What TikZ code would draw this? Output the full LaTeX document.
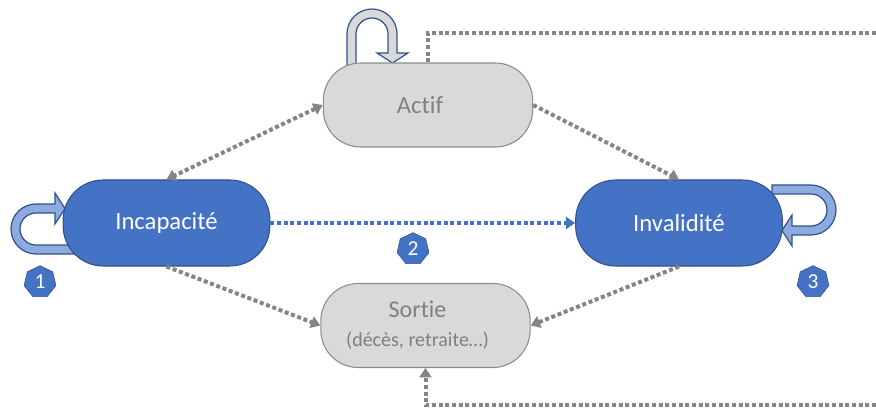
\documentclass[tikz,border=0pt]{standalone}
\usepackage{fontspec}
\setmainfont{Carlito}[Ligatures=NoCommon]
\usetikzlibrary{shapes.geometric,arrows.meta}
\definecolor{bfill}{HTML}{4472C4}
\definecolor{bline}{HTML}{2F528F}
\definecolor{gfill}{HTML}{D9D9D9}
\definecolor{gline}{HTML}{8C8C8C}
\definecolor{gtext}{HTML}{808080}
\definecolor{lblue}{HTML}{8FAADC}
\definecolor{dotgray}{HTML}{858585}
\tikzset{
  bluestate/.style={draw=bline, fill=bfill, line width=0.8pt, rounded corners=30pt,
    minimum width=155pt, minimum height=64.5pt, text=white,
    font=\fontsize{18.5}{22}\selectfont},
  graystate/.style={draw=gline, fill=gfill, line width=0.8pt, rounded corners=28pt,
    minimum width=157pt, minimum height=63pt, text=gtext,
    font=\fontsize{18.5}{22}\selectfont},
  dotline/.style={draw=dotgray, line width=3pt, dash pattern=on 3pt off 2pt},
  flow/.style={dotline, -{Triangle[width=9pt,length=7pt]}},
  flow2/.style={dotline, {Triangle[width=9pt,length=7pt]}-{Triangle[width=9pt,length=7pt]}},
  badge/.style={regular polygon, regular polygon sides=7, fill=bfill, draw=bline,
    line width=0.4pt, minimum size=24.5pt, inner sep=0pt, text=white,
    font=\fontsize{16}{16}\selectfont},
  pics/uturn/.style={code={
    \path[x=0.75pt, y=0.75pt, draw=bline, line width=0.9pt, fill=#1]
      (-25,-10) -- (-25,29) arc[start angle=180, end angle=0, radius=25]
      -- (25,10) -- (36,10) -- (20.5,0) -- (5,10) -- (16,10) -- (16,29)
      arc[start angle=0, end angle=180, radius=16] -- (-16,-10) -- cycle;
  }}
}
\begin{document}
\begin{tikzpicture}[x=0.75pt, y=-0.75pt]
\useasboundingbox (0,0) rectangle (876,410);

% self loops (behind the states)
\pic at (372,63) {uturn=gfill};
\pic[rotate=90] at (65,229) {uturn=lblue};
\pic[rotate=-90] at (782,210) {uturn=lblue};

% states
\node[graystate] (actif) at (428,105) {Actif\kern12pt};
\node[bluestate] (incap) at (166.5,223) {Incapacité};
\node[bluestate] (inval) at (679,223) {Invalidité};
\node[graystate, align=center, font=\fontsize{18}{21.75}\selectfont] (sortie) at (425.5,325.5)
  {Sortie\kern12pt\\{\fontsize{15}{21.75}\selectfont (décès, retraite…)\kern12pt}};

% free ends
\coordinate (topR) at (876,33);
\coordinate (botR) at (876,405);

% transitions
\draw[flow2] (actif.west) -- (incap.north);
\draw[flow] (actif.east) -- (inval.north);
\draw[flow, draw=bfill] (incap.east) -- (inval.west);
\draw[flow] (incap.south) -- (sortie.west);
\draw[flow] (inval.south) -- (sortie.east);
\draw[dotline] (actif.north) |- (topR);
\draw[flow] (botR) -| (sortie.south);

% badges
\node[badge] (b1) at (40,282) {1};
\node[badge] (b2) at (413,249) {2};
\node[badge] (b3) at (813,282) {3};
\end{tikzpicture}
\end{document}
